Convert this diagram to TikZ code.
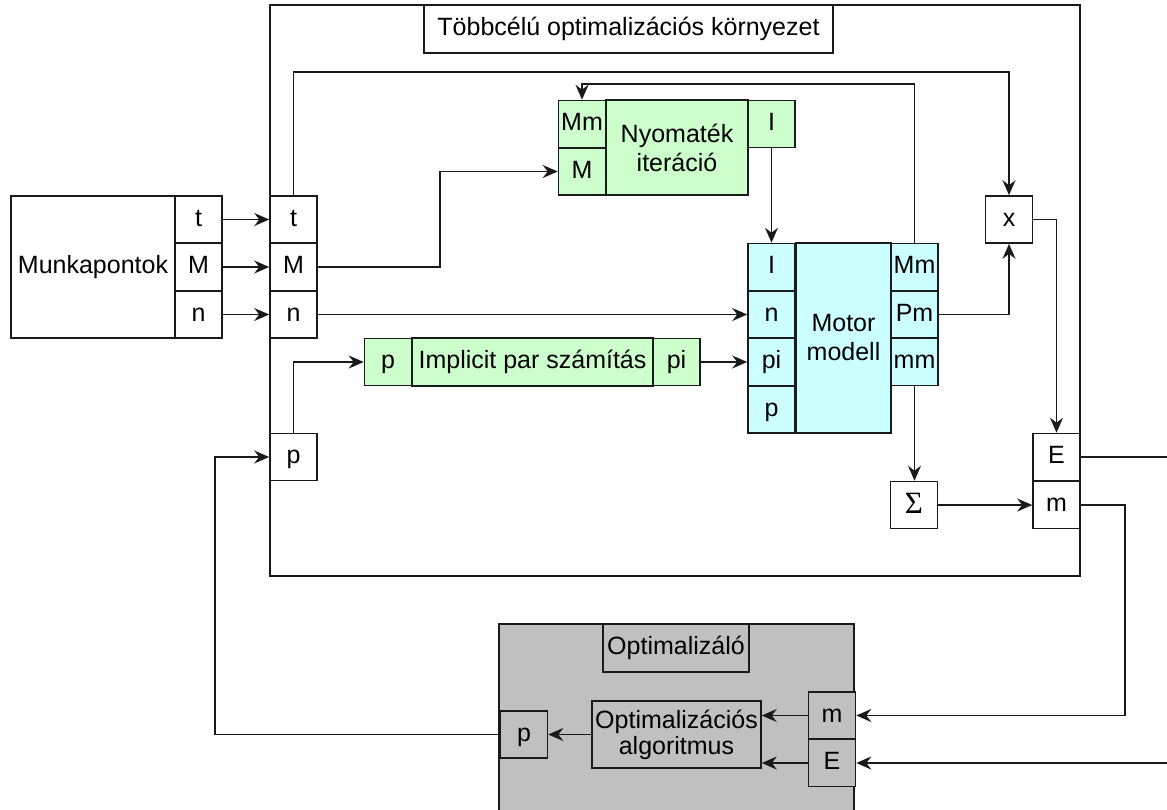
\documentclass[tikz,border=0pt]{standalone}
\usepackage{fontspec}
\setmainfont{Liberation Sans}
\newfontfamily\sigfont{Liberation Serif}
\usetikzlibrary{arrows.meta}
\definecolor{gfill}{HTML}{CCFFCC}
\definecolor{cfill}{HTML}{CCFFFF}
\definecolor{ofill}{HTML}{C0C0C0}
\definecolor{lcol}{HTML}{1A1A1A}
\newcommand{\fz}{\fontsize{25}{29}\selectfont}
\begin{document}
\begin{tikzpicture}[x=1pt,y=-1pt,
  box/.style={draw=lcol, line width=1.6pt, rectangle, inner sep=0pt, font=\fz, align=center},
  cell/.style={box, minimum width=47, minimum height=47, text height=18pt, text depth=5pt},
  arr/.style={draw=lcol, line width=1.6pt, -{Stealth[length=15pt,width=13pt,inset=5pt]}},
  ln/.style={draw=lcol, line width=1.6pt}]
\useasboundingbox (0,0) rectangle (1167,809);
\clip (0,0) rectangle (1167,809);

% environment
\node[box, minimum width=810, minimum height=571] (env) at (675,290.5) {};
\node[box, fill=white, minimum width=409, minimum height=48, text height=18pt, text depth=5pt] (title) at (628.5,29) {Többcélú optimalizációs környezet};

% Munkapontok
\node[box, minimum width=164, minimum height=142] (mp) at (93,267) {Munkapontok};
\node[cell] (mpt) at (198.5,219.5) {t};
\node[cell] (mpM) at (198.5,267) {M};
\node[cell] (mpn) at (198.5,314.5) {n};

% environment inputs
\node[cell] (et) at (293.5,219.5) {t};
\node[cell] (eM) at (293.5,267) {M};
\node[cell] (en) at (293.5,314.5) {n};
\node[cell] (ep) at (293.5,457) {p};

% Nyomatek iteracio
\node[box, fill=gfill, minimum width=142, minimum height=95] (ny) at (677,147.5) {Nyomaték\\iteráció};
\node[cell, fill=gfill] (nMm) at (582,124) {Mm};
\node[cell, fill=gfill] (nM) at (582,171.5) {M};
\node[cell, fill=gfill] (nI) at (771.5,124) {I};

% Motor modell
\node[box, fill=cfill, minimum width=95, minimum height=190] (mot) at (843.5,338) {Motor\\modell};
\node[cell, fill=cfill] (mI) at (771.5,267) {I};
\node[cell, fill=cfill] (mn) at (771.5,314.5) {n};
\node[cell, fill=cfill] (mpi) at (771.5,362) {pi};
\node[cell, fill=cfill] (mp2) at (771.5,409.5) {p};
\node[cell, fill=cfill] (mMm) at (914.5,267) {Mm};
\node[cell, fill=cfill] (mPm) at (914.5,314.5) {Pm};
\node[cell, fill=cfill] (mmm) at (914.5,362) {mm};

% Implicit par szamitas
\node[box, fill=gfill, minimum width=241, minimum height=48, text height=18pt, text depth=5pt] (imp) at (532.5,362) {Implicit par számítás};
\node[cell, fill=gfill] (ip) at (388,362) {p};
\node[cell, fill=gfill] (ipi) at (676.5,362) {pi};

% x, sum, E/m
\node[cell] (xb) at (1009,219.5) {x};
\node[cell, font=\sigfont\fontsize{31}{33}\selectfont, text height=20pt, text depth=3pt] (sig) at (914,505) {Σ};
\node[cell] (Eb) at (1056.5,457) {E};
\node[cell] (mb) at (1056.5,505) {m};

% Optimalizalo
\node[box, fill=ofill, minimum width=355, minimum height=216] (opt) at (676.5,732) {};
\node[box, fill=ofill, minimum width=146, minimum height=48, text height=18pt, text depth=5pt] (optt) at (676,648) {Optimalizáló};
\node[box, fill=ofill, minimum width=169, minimum height=67] (alg) at (676.5,734.5) {Optimalizációs\\[-3pt]algoritmus};
\node[cell, fill=ofill] (op) at (524,734.5) {p};
\node[cell, fill=ofill] (om) at (832,715.5) {m};
\node[cell, fill=ofill] (oE) at (832,763) {E};

\coordinate (Eout) at (1167,457);
\coordinate (Ein) at (1167,763);

% connectors
\draw[arr] (mpt.east) -- (et.west);
\draw[arr] (mpM.east) -- (eM.west);
\draw[arr] (mpn.east) -- (en.west);
\draw[arr] (et.north) -- (et.north |- 0,72) -- (xb.north |- 0,72) -- (xb.north);
\draw[arr] (eM.east) -- (eM.east -| 440,0) |- (nM.west);
\draw[arr] (mMm.north) -- (mMm.north |- 0,84) -- (nMm.north |- 0,84) -- (nMm.north);
\draw[arr] (nI.south) -- (mI.north);
\draw[arr] (en.east) -- (mn.west);
\draw[arr] (ep.north) |- (ip.west);
\draw[arr] (ipi.east) -- (mpi.west);
\draw[arr] (mPm.east) -| (xb.south);
\draw[arr] (xb.east) -| (Eb.north);
\draw[arr] (mmm.south) -- (sig.north -| mmm.south);
\draw[arr] (sig.east) -- (mb.west);
\draw[ln] (Eb.east) -- (Eout);
\draw[arr] (mb.east) -| (1125,600) |- (om.east);
\draw[arr] (Ein) -- (oE.east);
\draw[arr] (om.west) -- (alg.east |- om.west);
\draw[arr] (oE.west) -- (alg.east |- oE.west);
\draw[arr] (alg.west) -- (op.east);
\draw[arr] (op.west) -| (215,600) |- (ep.west);
\end{tikzpicture}
\end{document}
